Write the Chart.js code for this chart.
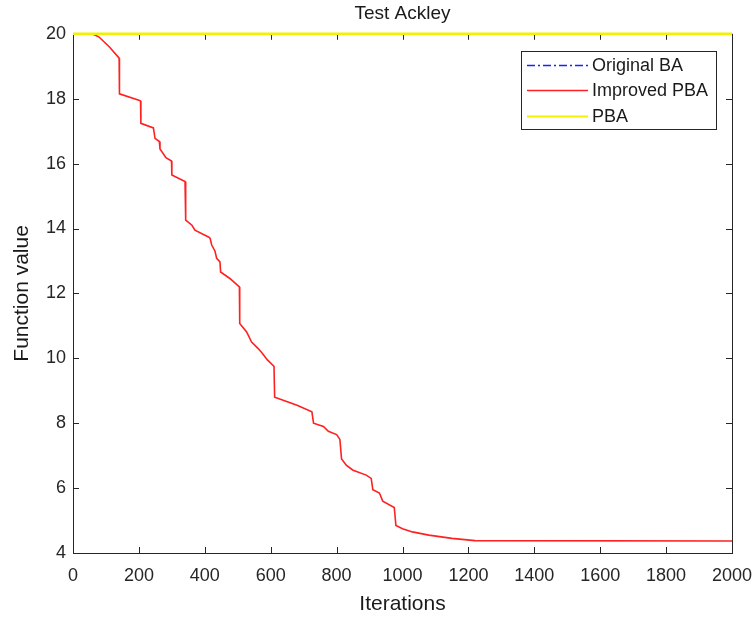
<!DOCTYPE html>
<html>
<head>
<meta charset="utf-8">
<title>Test Ackley</title>
<script src="https://cdn.jsdelivr.net/npm/chart.js@4.4.1/dist/chart.umd.min.js"></script>
<style>
  html, body { margin: 0; padding: 0; background: #fff; }
  #wrap { width: 756px; height: 621px; }
</style>
</head>
<body>
<div id="wrap"><canvas id="line-chart" width="756" height="621"></canvas></div>
<script>
// Series and tick labels

var xTicks = [0, 200, 400, 600, 800, 1000, 1200, 1400, 1600, 1800, 2000];
var yTicks = [4, 6, 8, 10, 12, 14, 16, 18, 20];

// Original BA and PBA stay at 20 the whole run
var baIter = [0, 2000];
var baVal = [20, 20];
var pbaIter = [0, 2000];
var pbaVal = [20, 20];

// Improved PBA best value per iteration
var improvedIter = [0, 50, 65, 79, 110, 140, 141, 200, 205, 206, 244, 249, 262, 264, 282, 299,
    300, 340, 342, 361, 370, 411, 416, 421, 431, 436, 446, 448, 476, 505, 506, 527, 542, 562,
    575, 590, 605, 610, 612, 640, 680, 725, 730, 760, 775, 800, 810, 815, 830, 850, 890, 905,
    910, 930, 940, 975, 980, 1000, 1030, 1080, 1150, 1220, 2000];
var improvedVal = [20, 20, 19.97, 19.9, 19.6, 19.25, 18.15, 17.95, 17.93, 17.24, 17.1, 16.78, 16.68,
    16.45, 16.18, 16.08, 15.65, 15.45, 14.26, 14.1, 13.95, 13.74, 13.7, 13.49, 13.3, 13.08, 12.97,
    12.66, 12.46, 12.2, 11.07, 10.81, 10.5, 10.3, 10.15, 9.95, 9.8, 9.75, 8.8, 8.7, 8.55, 8.35,
    8.0, 7.9, 7.75, 7.65, 7.5, 6.9, 6.7, 6.55, 6.4, 6.3, 5.95, 5.85, 5.6, 5.4, 4.85, 4.75, 4.65,
    4.55, 4.45, 4.38, 4.37];

function pairs(xs, ys) {
    var out = [];
    for (let i = 0; i < xs.length; i++) {
        out.push({x: xs[i], y: ys[i]});
    }
    return out;
}

var axisColor = '#262626';
var fontFamily = '"Liberation Sans", Arial, Helvetica, sans-serif';

// box round the plot with ticks pointing inwards on all four sides,
// drawn under the lines so the flat series at 20 sit on top of it
var boxPlugin = {
    id: 'box',
    beforeDatasetsDraw: function(chart) {
        var ctx = chart.ctx;
        var a = chart.chartArea;
        var xs = chart.scales.x, ys = chart.scales.y;
        var len = 6;
        ctx.save();
        ctx.strokeStyle = axisColor;
        ctx.lineWidth = 1;
        ctx.beginPath();
        xTicks.forEach(function(v) {
            var px = Math.round(xs.getPixelForValue(v)) + 0.5;
            ctx.moveTo(px, a.bottom); ctx.lineTo(px, a.bottom - len);
            ctx.moveTo(px, a.top); ctx.lineTo(px, a.top + len);
        });
        yTicks.forEach(function(v) {
            var py = Math.round(ys.getPixelForValue(v)) + 0.5;
            ctx.moveTo(a.left, py); ctx.lineTo(a.left + len, py);
            ctx.moveTo(a.right, py); ctx.lineTo(a.right - len, py);
        });
        ctx.stroke();
        ctx.strokeRect(Math.round(a.left) + 0.5, Math.round(a.top) + 0.5,
            Math.round(a.right - a.left), Math.round(a.bottom - a.top));
        ctx.restore();
    }
};

// legend box in the upper right corner of the plot
var legendPlugin = {
    id: 'cornerLegend',
    afterDraw: function(chart) {
        var ctx = chart.ctx;
        var a = chart.chartArea;
        var w = 195, h = 78;
        var left = a.right - 16 - w, top = a.top + 17;
        ctx.save();
        ctx.fillStyle = '#fff';
        ctx.fillRect(left, top, w, h);
        ctx.strokeStyle = axisColor;
        ctx.lineWidth = 1;
        ctx.strokeRect(Math.round(left) + 0.5, Math.round(top) + 0.5, w, h);
        ctx.font = '18px ' + fontFamily;
        ctx.textBaseline = 'middle';
        chart.data.datasets.forEach(function(ds, i) {
            var y = Math.round(top + 14 + i * 25.5) + 0.5;
            ctx.beginPath();
            ctx.strokeStyle = ds.borderColor;
            ctx.lineWidth = ds.legendWidth || ds.borderWidth;
            ctx.setLineDash(ds.borderDash || []);
            ctx.moveTo(left + 6, y);
            ctx.lineTo(left + 67, y);
            ctx.stroke();
            ctx.setLineDash([]);
            ctx.fillStyle = '#1a1a1a';
            ctx.fillText(ds.label, left + 71, y + 1);
        });
        ctx.restore();
    }
};

new Chart(document.getElementById('line-chart'), {
    type: 'line',
    data: {
        datasets: [{
            label: 'Original BA',
            data: pairs(baIter, baVal),
            borderColor: '#1f1fff',
            borderWidth: 1.5,
            legendWidth: 1.6,
            borderDash: [8, 3, 2, 3],
            clip: false,
            order: 3
        }, {
            label: 'Improved PBA',
            data: pairs(improvedIter, improvedVal),
            borderColor: '#ff2020',
            borderWidth: 1.6,
            order: 2
        }, {
            label: 'PBA',
            data: pairs(pbaIter, pbaVal),
            borderColor: '#f2f200',
            borderWidth: 2.5,
            legendWidth: 2,
            clip: false,
            order: 1
        }]
    },
    options: {
        responsive: false,
        animation: false,
        elements: { point: { radius: 0 }, line: { tension: 0 } },
        layout: { padding: { left: 0, right: 24, top: 0, bottom: 0 } },
        plugins: {
            legend: { display: false },
            tooltip: { enabled: false },
            title: {
                display: true,
                fullSize: false,
                text: 'Test Ackley',
                color: '#1a1a1a',
                font: { family: fontFamily, size: 19, weight: 'normal', lineHeight: 1.2 },
                padding: { top: 2, bottom: 9 }
            }
        },
        scales: {
            x: {
                type: 'linear',
                min: 0,
                max: 2000,
                afterFit: function(scale) {
                    scale.height = 68;
                    scale.paddingLeft = 0;
                    scale.paddingRight = 0;
                },
                afterBuildTicks: function(scale) {
                    scale.ticks = xTicks.map(function(v) { return {value: v}; });
                },
                grid: { display: false, drawTicks: false },
                border: { display: false },
                ticks: {
                    color: axisColor,
                    padding: 12,
                    maxRotation: 0,
                    autoSkip: false,
                    font: { family: fontFamily, size: 18 },
                    callback: function(v) { return String(v); }
                },
                title: {
                    display: true,
                    text: 'Iterations',
                    color: '#1a1a1a',
                    font: { family: fontFamily, size: 21 },
                    padding: { top: 0, bottom: 4 }
                }
            },
            y: {
                type: 'linear',
                min: 4,
                max: 20,
                afterFit: function(scale) {
                    scale.width = 73;
                    scale.paddingTop = 0;
                    scale.paddingBottom = 0;
                },
                afterBuildTicks: function(scale) {
                    scale.ticks = yTicks.map(function(v) { return {value: v}; });
                },
                grid: { display: false, drawTicks: false },
                border: { display: false },
                ticks: {
                    color: axisColor,
                    padding: 7,
                    autoSkip: false,
                    font: { family: fontFamily, size: 18 },
                    callback: function(v) { return String(v); }
                },
                title: {
                    display: true,
                    text: 'Function value',
                    color: '#1a1a1a',
                    font: { family: fontFamily, size: 21 },
                    padding: { top: 10, bottom: 0 }
                }
            }
        }
    },
    plugins: [boxPlugin, legendPlugin]
});
</script>
</body>
</html>
